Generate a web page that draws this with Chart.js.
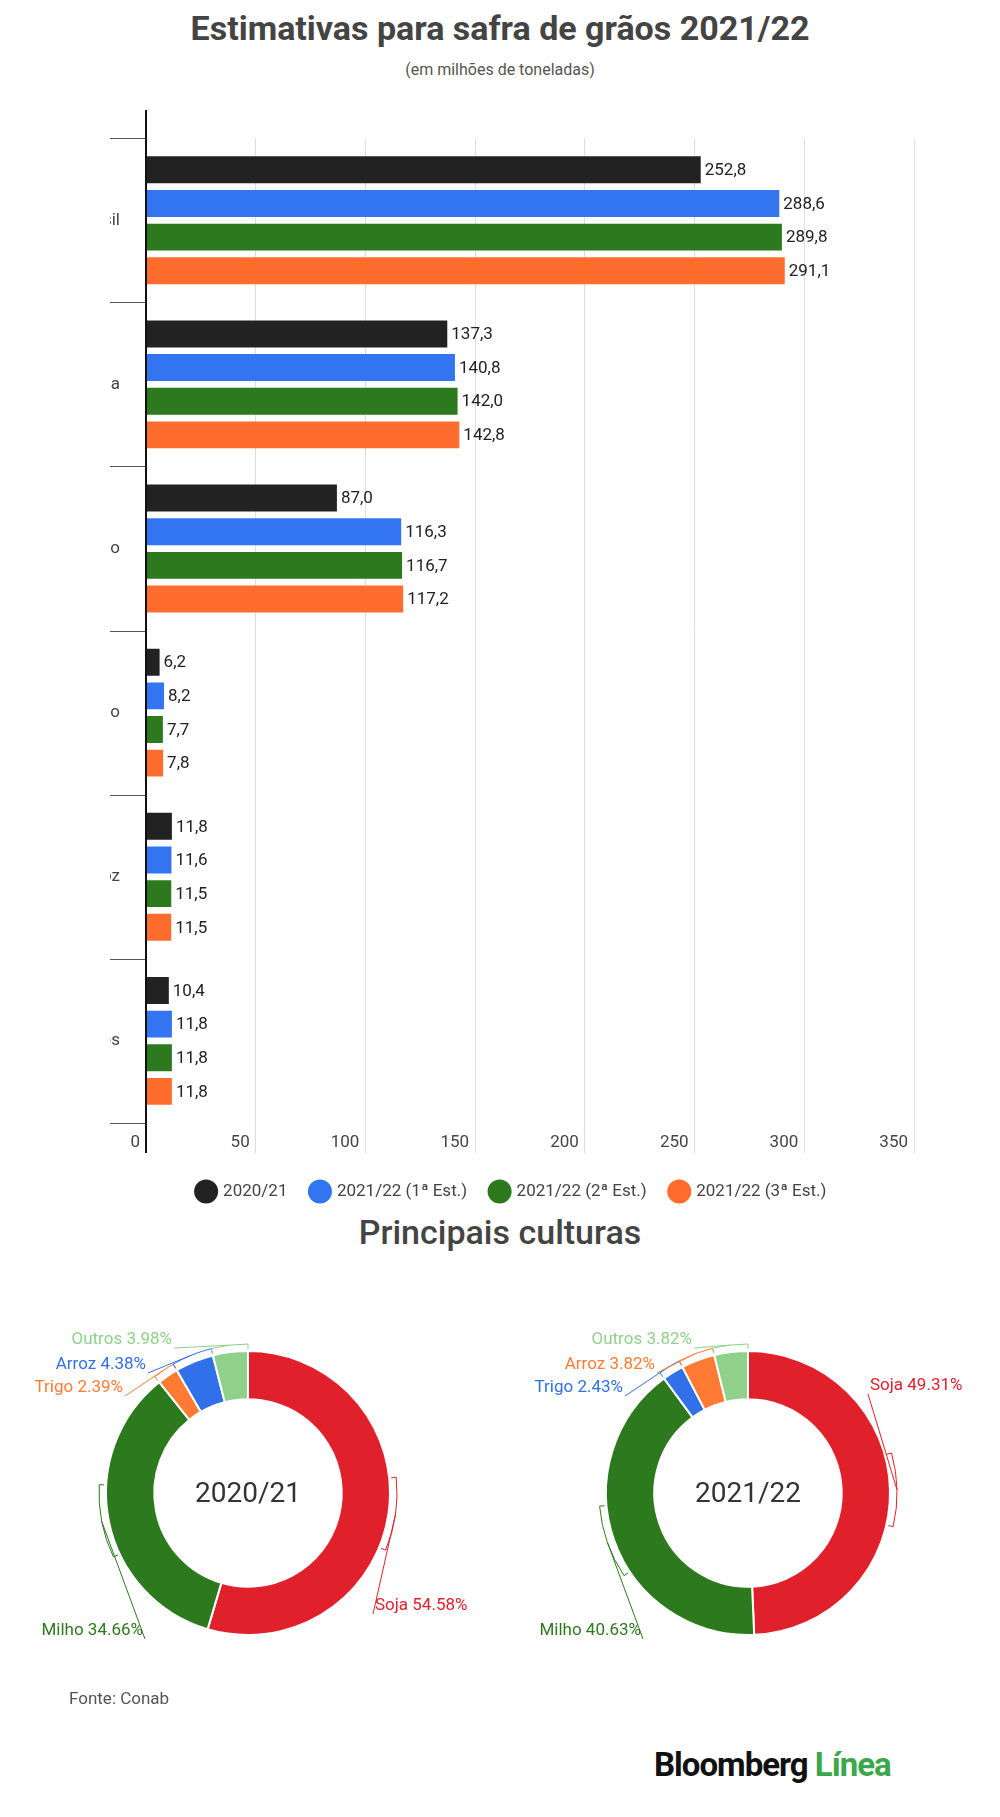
<!DOCTYPE html>
<html><head><meta charset="utf-8">
<script src="https://cdn.jsdelivr.net/npm/chart.js@4"></script>
<style>
body{margin:0;width:1000px;height:1817px;background:#fff;font-family:Roboto,sans-serif;position:relative;overflow:hidden}
.t{position:absolute;left:0;width:1000px;text-align:center;color:#444}
canvas{position:absolute}
</style></head><body>
<div class="t" style="top:8px;font-size:34px;font-weight:bold">Estimativas para safra de grãos 2021/22</div>
<div class="t" style="top:60px;font-size:16px;color:#555">(em milhões de toneladas)</div>
<div style="position:absolute;left:110px;top:110px;width:890px;height:1100px"><canvas id="bar" width="890" height="1100"></canvas></div>
<div class="t" style="top:1212px;font-size:34px;font-weight:500">Principais culturas</div>
<div style="position:absolute;left:0;top:1290px;width:500px;height:410px"><canvas id="d1"></canvas></div>
<div style="position:absolute;left:500px;top:1290px;width:500px;height:410px"><canvas id="d2"></canvas></div>
<div style="position:absolute;left:69px;top:1688px;font-size:17px;color:#555">Fonte: Conab</div>
<div style="position:absolute;left:654px;top:1745px;font-size:33px;font-weight:bold;letter-spacing:-1px;color:#111">Bloomberg <span style="color:#3aa84a">Línea</span></div>
<script>
const categories=["Brasil","Soja","Milho","Trigo","Arroz","Outros"];
const seriesNames=["2020/21","2021/22 (1ª Est.)","2021/22 (2ª Est.)","2021/22 (3ª Est.)"];
const s2020=[252.8,137.3,87.0,6.2,11.8,10.4];
const s2122a=[288.6,140.8,116.3,8.2,11.6,11.8];
const s2122b=[289.8,142.0,116.7,7.7,11.5,11.8];
const s2122c=[291.1,142.8,117.2,7.8,11.5,11.8];
const xTicks=[0,50,100,150,200,250,300,350];
const barColors=["#222222","#3374f0","#2d7a1e","#ff6d2e"];

const donutCats1=["Soja","Milho","Trigo","Arroz","Outros"];
const donutVals1=[54.58,34.66,2.39,4.38,3.98];
const donutCats2=["Soja","Milho","Trigo","Arroz","Outros"];
const donutVals2=[49.31,40.63,2.43,3.82,3.82];

Chart.defaults.font.family="Roboto, sans-serif";
const fmt=v=>v.toFixed(1).replace('.',',');

const barPlugin={id:'bp',afterDatasetsDraw(c){
  const ctx=c.ctx,y=c.scales.y,x=c.scales.x,a=c.chartArea;
  ctx.save();
  // category separators
  ctx.strokeStyle='#555';ctx.lineWidth=1;
  for(let i=0;i<=categories.length;i++){
    const yy=Math.round(a.top+(a.bottom-a.top)*i/categories.length)+0.5;
    ctx.beginPath();ctx.moveTo(a.left-79,yy);ctx.lineTo(a.left,yy);ctx.stroke();
  }
  // axis line
  ctx.strokeStyle='#111';ctx.lineWidth=2;
  ctx.beginPath();ctx.moveTo(a.left,a.top-30);ctx.lineTo(a.left,a.bottom+30);ctx.stroke();
  // x tick labels
  ctx.fillStyle='#444';ctx.font='17px Roboto';ctx.textAlign='right';ctx.textBaseline='middle';
  xTicks.forEach(t=>ctx.fillText(String(t),x.getPixelForValue(t)-6,a.bottom+20));
  // value labels
  ctx.textAlign='left';ctx.fillStyle='#222';
  c.data.datasets.forEach((ds,di)=>{
    c.getDatasetMeta(di).data.forEach((el,i)=>{
      ctx.fillText(fmt(ds.data[i]),el.x+4,el.y+1);
    });
  });
  ctx.restore();
}};

new Chart(document.getElementById('bar'),{
  type:'bar',
  data:{labels:categories,datasets:[s2020,s2122a,s2122b,s2122c].map((d,i)=>({label:seriesNames[i],data:d,backgroundColor:barColors[i],categoryPercentage:0.82,barPercentage:0.8}))},
  options:{indexAxis:'y',responsive:false,animation:false,
    layout:{padding:{top:20,right:86,left:0,bottom:0}},
    scales:{
      x:{min:0,max:350,afterBuildTicks(s){s.ticks=xTicks.map(v=>({value:v}));},
         grid:{color:'#dddddd',tickLength:30,drawTicks:true},border:{display:false},
         ticks:{display:false},afterFit(s){s.height=36;}},
      y:{grid:{display:false},border:{display:false},
         ticks:{color:'#444',font:{size:17},padding:18},afterFit(s){s.width=36;}}
    },
    plugins:{legend:{position:'bottom',labels:{usePointStyle:true,pointStyle:'circle',boxWidth:22,boxHeight:22,padding:24,color:'#444',font:{size:17}}},tooltip:{enabled:false}}
  },plugins:[barPlugin]
});

function donut(id,cats,vals,colors,center,labelPos){
  const p={id:'lbl',afterDatasetsDraw(c){
    const ctx=c.ctx;ctx.save();
    const meta=c.getDatasetMeta(0);
    meta.data.forEach((el,i)=>{
      const L=labelPos[i];const col=colors[i];
      const r=el.outerRadius+7,cx=el.x,cy=el.y;
      const sa=el.startAngle,ea=el.endAngle,ma=(sa+ea)/2;
      ctx.strokeStyle=col;ctx.lineWidth=1;
      const span=Math.min(ea-sa,0.5);
      const s1=ma-span/2,e1=ma+span/2;
      ctx.beginPath();
      ctx.moveTo(cx+Math.cos(s1)*(r-5),cy+Math.sin(s1)*(r-5));
      ctx.arc(cx,cy,r,s1,e1);
      ctx.lineTo(cx+Math.cos(e1)*(r-5),cy+Math.sin(e1)*(r-5));
      ctx.stroke();
      const mx=cx+Math.cos(ma)*r,my=cy+Math.sin(ma)*r;
      ctx.beginPath();ctx.moveTo(mx,my);ctx.lineTo(L[0],L[1]+8);ctx.stroke();
      ctx.fillStyle=col;ctx.font='17px Roboto';ctx.textAlign=L[2];ctx.textBaseline='middle';
      ctx.fillText(cats[i]+' '+vals[i].toFixed(2)+'%',L[0]+(L[2]==='left'?2:-2),L[1]);
    });
    ctx.fillStyle='#333';ctx.font='28px Roboto';ctx.textAlign='center';
    ctx.fillText(center,meta.data[0].x,meta.data[0].y+2);
    ctx.restore();
  }};
  new Chart(document.getElementById(id),{type:'doughnut',
    data:{labels:cats,datasets:[{data:vals,backgroundColor:colors,borderColor:'#fff',borderWidth:2}]},
    options:{responsive:true,maintainAspectRatio:false,animation:false,cutout:'66%',
      layout:{padding:{top:60,bottom:64,left:0,right:4}},
      plugins:{legend:{display:false},tooltip:{enabled:false}}},plugins:[p]});
}
donut('d1',donutCats1,donutVals1,["#e0202a","#2d7a1e","#ff7b33","#3070e8","#8fd18a"],"2020/21",
  [[373,316,'left'],[145,341,'right'],[125,98,'right'],[148,75,'right'],[174,50,'right']]);
donut('d2',donutCats2,donutVals2,["#e0202a","#2d7a1e","#3070e8","#ff7b33","#8fd18a"],"2021/22",
  [[368,96,'left'],[143,341,'right'],[125,98,'right'],[157,75,'right'],[194,50,'right']]);
</script></body></html>
